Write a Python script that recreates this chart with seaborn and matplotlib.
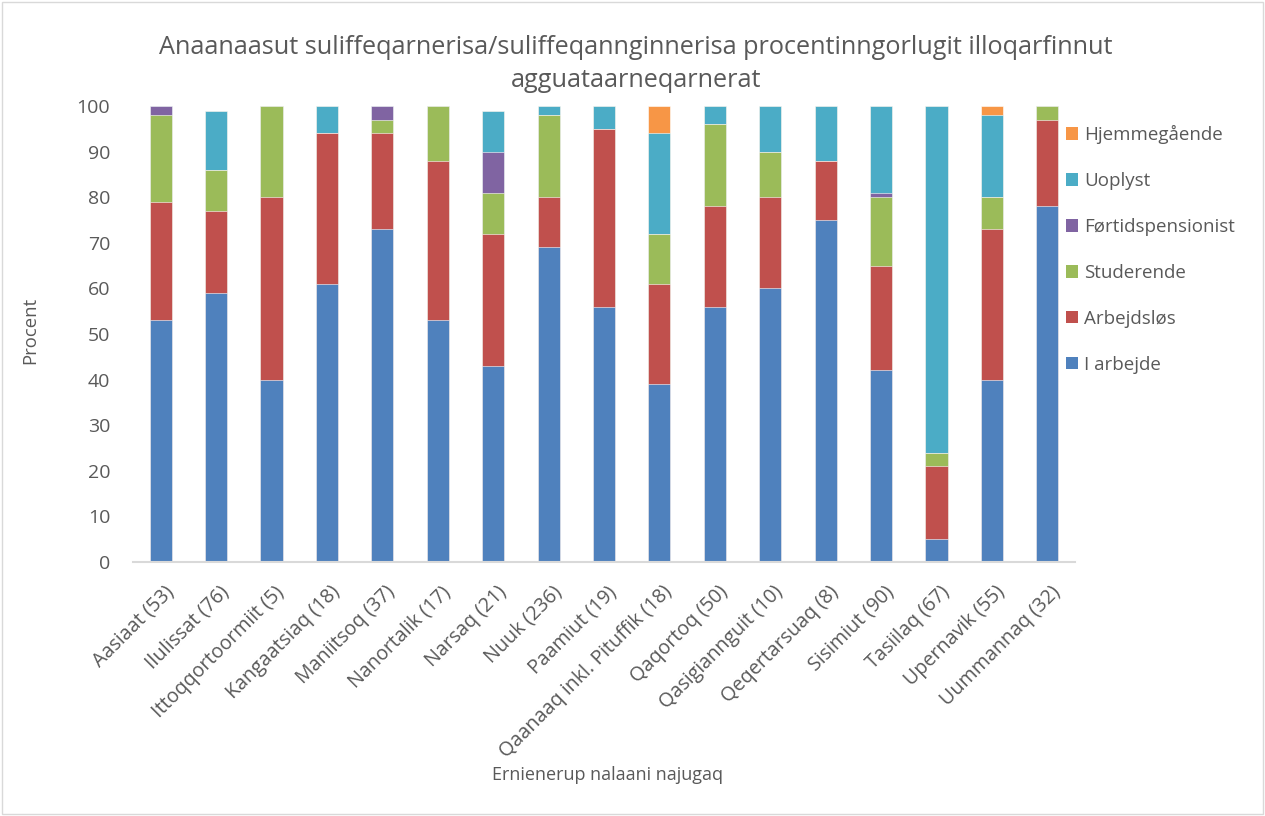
import matplotlib
matplotlib.use("Agg")
import matplotlib.pyplot as plt
import matplotlib.transforms as mtransforms
from matplotlib.patches import Patch, Rectangle
import seaborn as sns
import numpy as np
import pandas as pd

categories = ["Aasiaat (53)", "Ilulissat (76)", "Ittoqqortoormiit (5)", "Kangaatsiaq (18)",
              "Maniitsoq (37)", "Nanortalik (17)", "Narsaq (21)", "Nuuk (236)", "Paamiut (19)",
              "Qaanaaq inkl. Pituffik (18)", "Qaqortoq (50)", "Qasigiannguit (10)",
              "Qeqertarsuaq (8)", "Sisimiut (90)", "Tasiilaq (67)", "Upernavik (55)",
              "Uummannaq (32)"]

i_arbejde = [53, 59, 40, 61, 73, 53, 43, 69, 56, 39, 56, 60, 75, 42, 5, 40, 78]
arbejdslos = [26, 18, 40, 33, 21, 35, 29, 11, 39, 22, 22, 20, 13, 23, 16, 33, 19]
studerende = [19, 9, 20, 0, 3, 12, 9, 18, 0, 11, 18, 10, 0, 15, 3, 7, 3]
fortidspensionist = [2, 0, 0, 0, 3, 0, 9, 0, 0, 0, 0, 0, 0, 1, 0, 0, 0]
uoplyst = [0, 13, 0, 6, 0, 0, 9, 2, 5, 22, 4, 10, 12, 19, 76, 18, 0]
hjemmegaaende = [0, 0, 0, 0, 0, 0, 0, 0, 0, 6, 0, 0, 0, 0, 0, 2, 0]

series_names = ["I arbejde", "Arbejdsløs", "Studerende", "Førtidspensionist", "Uoplyst", "Hjemmegående"]
series_values = [i_arbejde, arbejdslos, studerende, fortidspensionist, uoplyst, hjemmegaaende]
colors = ["#4F81BD", "#C0504D", "#9BBB59", "#8064A2", "#4BACC6", "#F79646"]

sns.set_theme(style="white")
plt.rcParams["font.family"] = ["Open Sans", "DejaVu Sans"]
TXT = "#595959"

fig = plt.figure(figsize=(12.65, 8.16), dpi=100)
W, H = 1265, 816
ax = fig.add_axes([133 / W, 1 - 562 / H, (1075 - 133) / W, (562 - 106) / H])

cum = np.cumsum(np.array(series_values, dtype=float), axis=0)
for k in range(len(series_names) - 1, -1, -1):
    df = pd.DataFrame({"cat": categories, "val": cum[k]})
    sns.barplot(data=df, x="cat", y="val", color=colors[k], saturation=1, width=0.4,
                ax=ax, edgecolor="white", linewidth=0.4)

ax.set_xlim(-0.5, len(categories) - 0.5)
ax.set_ylim(0, 100)
ax.set_yticks(np.arange(0, 101, 10))
ax.tick_params(axis="y", labelsize=14, colors=TXT, length=0, pad=16.5)
ax.tick_params(axis="x", labelsize=14.2, colors=TXT, length=0, pad=14.5)
offset = mtransforms.ScaledTranslation(3 / 100, 0, fig.dpi_scale_trans)
for lab in ax.get_xticklabels():
    lab.set_rotation(45)
    lab.set_ha("right")
    lab.set_va("top")
    lab.set_rotation_mode("anchor")
    lab.set_transform(lab.get_transform() + offset)
for s in ["top", "right", "left"]:
    ax.spines[s].set_visible(False)
ax.spines["bottom"].set_color("#D9D9D9")
ax.spines["bottom"].set_linewidth(1.5)

ax.set_xlabel("")
ax.set_ylabel("")
fig.text(607 / W, 1 - 775 / H, "Ernienerup nalaani najugaq", ha="center", va="center",
         fontsize=13, color=TXT)
fig.text(30 / W, 1 - 330 / H, "Procent", ha="center", va="center", rotation=90,
         fontsize=13.3, color=TXT)
fig.text(636 / W, 1 - 64 / H,
         "Anaanaasut suliffeqarnerisa/suliffeqannginnerisa procentinngorlugit illoqarfinnut\nagguataarneqarnerat",
         ha="center", va="center", fontsize=18.2, color=TXT, linespacing=1.4)

handles = [Patch(facecolor=colors[k], edgecolor="none") for k in range(len(series_names) - 1, -1, -1)]
labels = series_names[::-1]
fig.legend(handles, labels, loc="upper left", bbox_to_anchor=(1066 / W, 1 - 125 / H),
           bbox_transform=fig.transFigure, frameon=False, fontsize=13.5,
           handlelength=0.65, handleheight=0.65, handletextpad=0.3, labelspacing=1.49,
           borderpad=0, borderaxespad=0, labelcolor=TXT)

fig.add_artist(Rectangle((2 / W, 2 / H), 1 - 4 / W, 1 - 4 / H, transform=fig.transFigure,
                         fill=False, edgecolor="#D9D9D9", linewidth=1))

fig.savefig("out.png", dpi=100)
